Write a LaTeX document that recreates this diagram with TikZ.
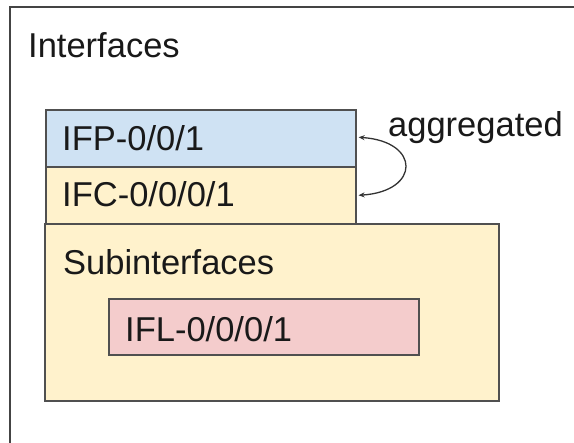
\documentclass[tikz,border=0pt]{standalone}
\usepackage{fontspec}
\setmainfont{Liberation Sans}
\usetikzlibrary{arrows.meta,calc}
\definecolor{edgegray}{HTML}{505050}
\definecolor{outergray}{HTML}{444444}
\definecolor{ifpblue}{HTML}{CFE2F3}
\definecolor{ifcyellow}{HTML}{FFF2CC}
\definecolor{iflred}{HTML}{F4CCCC}
\begin{document}
\begin{tikzpicture}[x=1pt,y=-1pt,
  boxshape/.style={draw=edgegray,line width=1.6pt,rectangle,inner sep=0pt,anchor=north west},
  lbl/.style={anchor=base west,inner sep=0pt,font=\fontsize{34.5}{40}\selectfont,text=black!90},
  aggarrow/.style={{Stealth[length=6pt,width=5pt]}-{Stealth[length=6pt,width=5pt]},line width=1.3pt,draw=black!80}]
\useasboundingbox (0,0) rectangle (574,443);
\fill[white] (0,0) rectangle (574,443);
% outer frame (extends beyond the picture)
\coordinate (frameBL) at (10,460);
\coordinate (frameTL) at (10,7);
\coordinate (frameTR) at (590,7);
\draw[draw=outergray,line width=1.8pt] (frameBL) -- (frameTL) -- (frameTR);
\node[lbl] (tInterfaces) at (28,58) {Interfaces};
% boxes
\node[boxshape,fill=ifcyellow,minimum width=454pt,minimum height=177pt] (sub) at (44,223) {};
\node[boxshape,fill=ifcyellow,minimum width=310pt,minimum height=57pt] (ifc) at (45,166) {};
\node[boxshape,fill=ifpblue,minimum width=310pt,minimum height=57pt] (ifp) at (45,109) {};
\node[boxshape,fill=iflred,minimum width=310pt,minimum height=56pt] (ifl) at (108,298) {};
% labels
\node[lbl] (tIFP) at (62,151) {IFP-0/0/1};
\node[lbl] (tIFC) at (62,207) {IFC-0/0/0/1};
\node[lbl] (tSub) at (63,275) {Subinterfaces};
\node[lbl] (tIFL) at (125,342) {IFL-0/0/0/1};
\node[lbl] (tAgg) at (388,137) {aggregated};
% aggregation arrow
\coordinate (aTop) at ($(ifp.east)+(2,-1)$);
\coordinate (aBot) at ($(ifc.east)+(2,0)$);
\draw[aggarrow] (aTop) .. controls ($(aTop)+(62,4)$) and ($(aBot)+(62,-4)$) .. (aBot);
\end{tikzpicture}
\end{document}
